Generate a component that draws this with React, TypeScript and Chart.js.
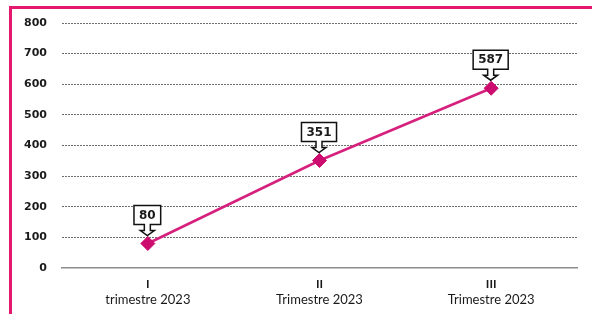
import React, { useEffect, useRef } from "react";
import { Chart, registerables } from "chart.js";

Chart.register(...registerables);

const romanLabels = ["I", "II", "III"];
const periodLabels = ["trimestre 2023", "Trimestre 2023", "Trimestre 2023"];
const values = [80, 351, 587];
const yTicks = [0, 100, 200, 300, 400, 500, 600, 700, 800];

const LINE = "#D6207D";
const MARKER = "#CC0C6E";
const FRAME = "#E5186F";

const framePlugin = {
  id: "frame",
  beforeDraw(chart: any) {
    const ctx = chart.ctx;
    ctx.save();
    ctx.fillStyle = "#ffffff";
    ctx.fillRect(0, 0, chart.width, chart.height);
    ctx.strokeStyle = FRAME;
    ctx.lineWidth = 3;
    ctx.beginPath();
    ctx.moveTo(10.5, chart.height + 5);
    ctx.lineTo(10.5, 7.5);
    ctx.lineTo(chart.width + 5, 7.5);
    ctx.stroke();
    ctx.restore();
  },
};

const xLabelPlugin = {
  id: "xLabels",
  afterDraw(chart: any) {
    const ctx = chart.ctx;
    const xs = chart.scales.x;
    const bottom = chart.chartArea.bottom;
    ctx.save();
    ctx.fillStyle = "#1a1a1a";
    ctx.textAlign = "center";
    ctx.textBaseline = "middle";
    romanLabels.forEach((r, i) => {
      const x = xs.getPixelForValue(i);
      ctx.font = "bold 12px Lato";
      ctx.fillText(r, x, bottom + 16);
      ctx.font = "13px Lato";
      ctx.fillText(periodLabels[i], x, bottom + 32);
    });
    ctx.restore();
  },
};

const calloutPlugin = {
  id: "callouts",
  afterDatasetsDraw(chart: any) {
    const ctx = chart.ctx;
    const meta = chart.getDatasetMeta(0);
    ctx.save();
    ctx.font = "bold 12px 'DejaVu Sans'";
    meta.data.forEach((pt: any, i: number) => {
      const text = String(values[i]);
      const w = ctx.measureText(text).width + 10;
      const cx = pt.x - 0.5;
      const tip = pt.y - 8;
      const headTop = pt.y - 13;
      const boxBottom = pt.y - 19;
      const boxTop = pt.y - 38;
      const left = cx - w / 2;
      const right = cx + w / 2;
      ctx.beginPath();
      ctx.moveTo(left, boxTop);
      ctx.lineTo(right, boxTop);
      ctx.lineTo(right, boxBottom);
      ctx.lineTo(cx + 3, boxBottom);
      ctx.lineTo(cx + 3, headTop);
      ctx.lineTo(cx + 7, headTop);
      ctx.lineTo(cx, tip);
      ctx.lineTo(cx - 7, headTop);
      ctx.lineTo(cx - 3, headTop);
      ctx.lineTo(cx - 3, boxBottom);
      ctx.lineTo(left, boxBottom);
      ctx.closePath();
      ctx.fillStyle = "#ffffff";
      ctx.fill();
      ctx.strokeStyle = "#111111";
      ctx.lineWidth = 1.5;
      ctx.stroke();
      ctx.fillStyle = "#1a1a1a";
      ctx.textAlign = "center";
      ctx.textBaseline = "middle";
      ctx.fillText(text, cx, (boxTop + boxBottom) / 2 + 0.5);
    });
    ctx.restore();
  },
};

export default function App() {
  const ref = useRef<HTMLCanvasElement>(null);
  useEffect(() => {
    document.body.style.margin = "0";
    document.body.style.overflow = "hidden";
    const chart = new Chart(ref.current!, {
      type: "line",
      data: {
        labels: romanLabels,
        datasets: [
          {
            data: values,
            borderColor: LINE,
            borderWidth: 2.5,
            pointStyle: "rectRot",
            pointRadius: 7,
            pointBackgroundColor: MARKER,
            pointBorderColor: MARKER,
            pointBorderWidth: 1,
            tension: 0,
          },
        ],
      },
      options: {
        responsive: false,
        animation: false,
        layout: { padding: { left: 0, right: 15, top: 23, bottom: 0 } },
        plugins: { legend: { display: false }, tooltip: { enabled: false } },
        scales: {
          x: {
            offset: true,
            grid: { display: false },
            border: { display: true, color: "#8c8c8c", width: 1.5 },
            ticks: { display: false },
            afterFit(scale: any) {
              scale.height = 46;
            },
          },
          y: {
            min: 0,
            max: 800,
            afterBuildTicks(scale: any) {
              scale.ticks = yTicks.map((v) => ({ value: v }));
            },
            grid: {
              drawTicks: false,
              color: (c: any) => (c.tick && c.tick.value === 0 ? "rgba(0,0,0,0)" : "#6e6e6e"),
              lineWidth: 1,
            },
            border: { display: false, dash: [2, 1] },
            ticks: {
              padding: 15,
              color: "#1a1a1a",
              font: { family: "'DejaVu Sans'", size: 11, weight: "bold" },
            },
            afterFit(scale: any) {
              scale.width = 62;
            },
          },
        },
      },
      plugins: [framePlugin, xLabelPlugin, calloutPlugin],
    });
    return () => chart.destroy();
  }, []);
  return (
    <div style={{ width: 592, height: 314 }}>
      <canvas ref={ref} width={592} height={314} style={{ width: 592, height: 314, display: "block" }} />
    </div>
  );
}
